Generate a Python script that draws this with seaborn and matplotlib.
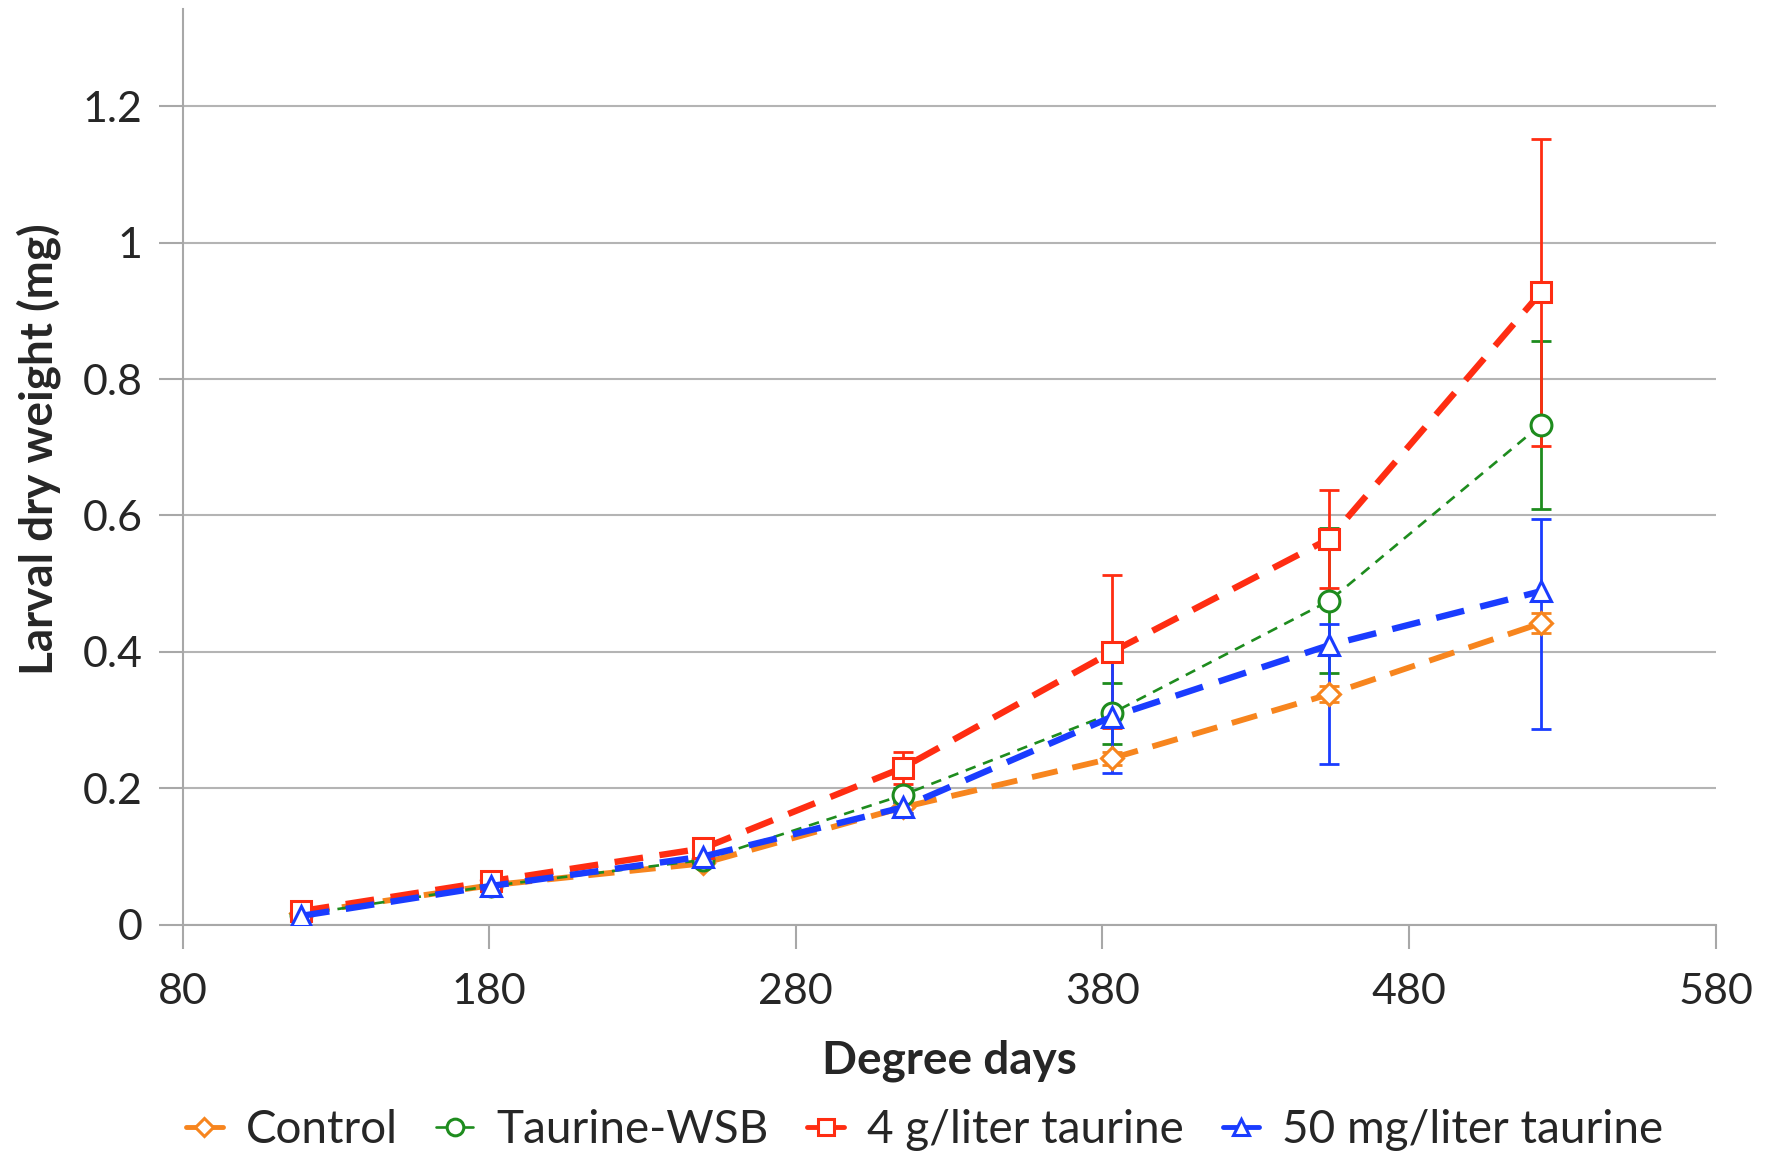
# Larval dry weight vs degree days, four taurine treatments

import seaborn as sns
import matplotlib.pyplot as plt
from matplotlib.lines import Line2D
import numpy as np

degree_days = [118.6, 180.7, 249.7, 314.8, 383.1, 454.0, 523.0]

control = [0.017, 0.058, 0.090, 0.172, 0.244, 0.338, 0.442]
taurine_wsb = [0.015, 0.057, 0.095, 0.190, 0.310, 0.475, 0.733]
taurine_4g = [0.020, 0.064, 0.112, 0.230, 0.400, 0.566, 0.927]
taurine_50mg = [0.013, 0.057, 0.100, 0.172, 0.305, 0.410, 0.489]

control_err = [0.004, 0.005, 0.006, 0.008, 0.010, 0.012, 0.015]
wsb_err = [0.004, 0.005, 0.006, 0.010, 0.045, 0.106, 0.123]
g4_err = [0.005, 0.006, 0.008, 0.023, 0.112, 0.072, 0.225]
mg50_err_low = [0.004, 0.005, 0.006, 0.008, 0.083, 0.175, 0.202]
mg50_err_high = [0.004, 0.005, 0.006, 0.008, 0.083, 0.031, 0.106]

labels = ['Control', 'Taurine-WSB', '4 g/liter taurine', '50 mg/liter taurine']
colors = ['#f7851e', '#1e8c1e', '#ff2d12', '#1a3cff']

sns.set_style("white")
plt.rcParams['font.family'] = ['Lato', 'DejaVu Sans']

fig = plt.figure(figsize=(17.67, 11.56), dpi=100)
ax = fig.add_axes([0.1033, 0.2, 0.8677, 0.792])

series = [
    (control, [control_err, control_err], 'D', 11, 4.2, (0, (4.5, 2.6))),
    (taurine_wsb, [wsb_err, wsb_err], 'o', 15, 1.9, (0, (4, 3))),
    (taurine_4g, [g4_err, g4_err], 's', 15, 4.6, (0, (4.5, 2.6))),
    (taurine_50mg, [mg50_err_low, mg50_err_high], '^', 15, 4.6, (0, (4.5, 2.6))),
]

for (vals, err, mk, ms, lw, ls), lab, col in zip(series, labels, colors):
    ax.errorbar(degree_days, vals, yerr=np.array(err), fmt='none', ecolor=col,
                elinewidth=2, capsize=7, capthick=2, zorder=2)

handles = []
for (vals, err, mk, ms, lw, ls), lab, col in zip(series, labels, colors):
    sns.lineplot(x=degree_days, y=vals, ax=ax, color=col, linewidth=lw,
                 linestyle=ls, marker=mk, markersize=ms, markerfacecolor='white',
                 markeredgecolor=col, markeredgewidth=2.2, zorder=3)
    handles.append(Line2D([], [], color=col, linewidth=min(lw, 3.5), linestyle='-',
                          marker=mk, markersize=ms * 0.8, markerfacecolor='white',
                          markeredgecolor=col, markeredgewidth=2.2))

ax.set_xlim(80, 580)
ax.set_ylim(0, 1.342)
ax.set_xticks([80, 180, 280, 380, 480, 580])
ax.set_yticks([0, 0.2, 0.4, 0.6, 0.8, 1.0, 1.2])
ax.set_yticklabels(['0', '0.2', '0.4', '0.6', '0.8', '1', '1.2'])
ax.yaxis.grid(True, color='#b4b4b4', linewidth=1.5)
ax.set_axisbelow(True)

for side in ['top', 'right']:
    ax.spines[side].set_visible(False)
for side in ['left', 'bottom']:
    ax.spines[side].set_color('#a8a8a8')
    ax.spines[side].set_linewidth(1.5)

ax.tick_params(axis='both', which='both', labelsize=31, length=17, width=1.5,
               color='#a8a8a8', direction='out', left=True, bottom=True)
ax.tick_params(axis='x', pad=18)
ax.tick_params(axis='y', pad=12)

ax.set_xlabel('Degree days', fontsize=33, fontweight='bold', labelpad=20)
ax.set_ylabel('Larval dry weight (mg)', fontsize=33, fontweight='bold')
ax.yaxis.set_label_coords(-0.079, 0.52)

ax.legend(handles, labels, loc='center', bbox_to_anchor=(0.484, -0.224), ncol=4,
          frameon=False, fontsize=33, handlelength=0.8, handletextpad=0.5,
          columnspacing=0.85, borderpad=0)

plt.savefig('out.png', dpi=100)
